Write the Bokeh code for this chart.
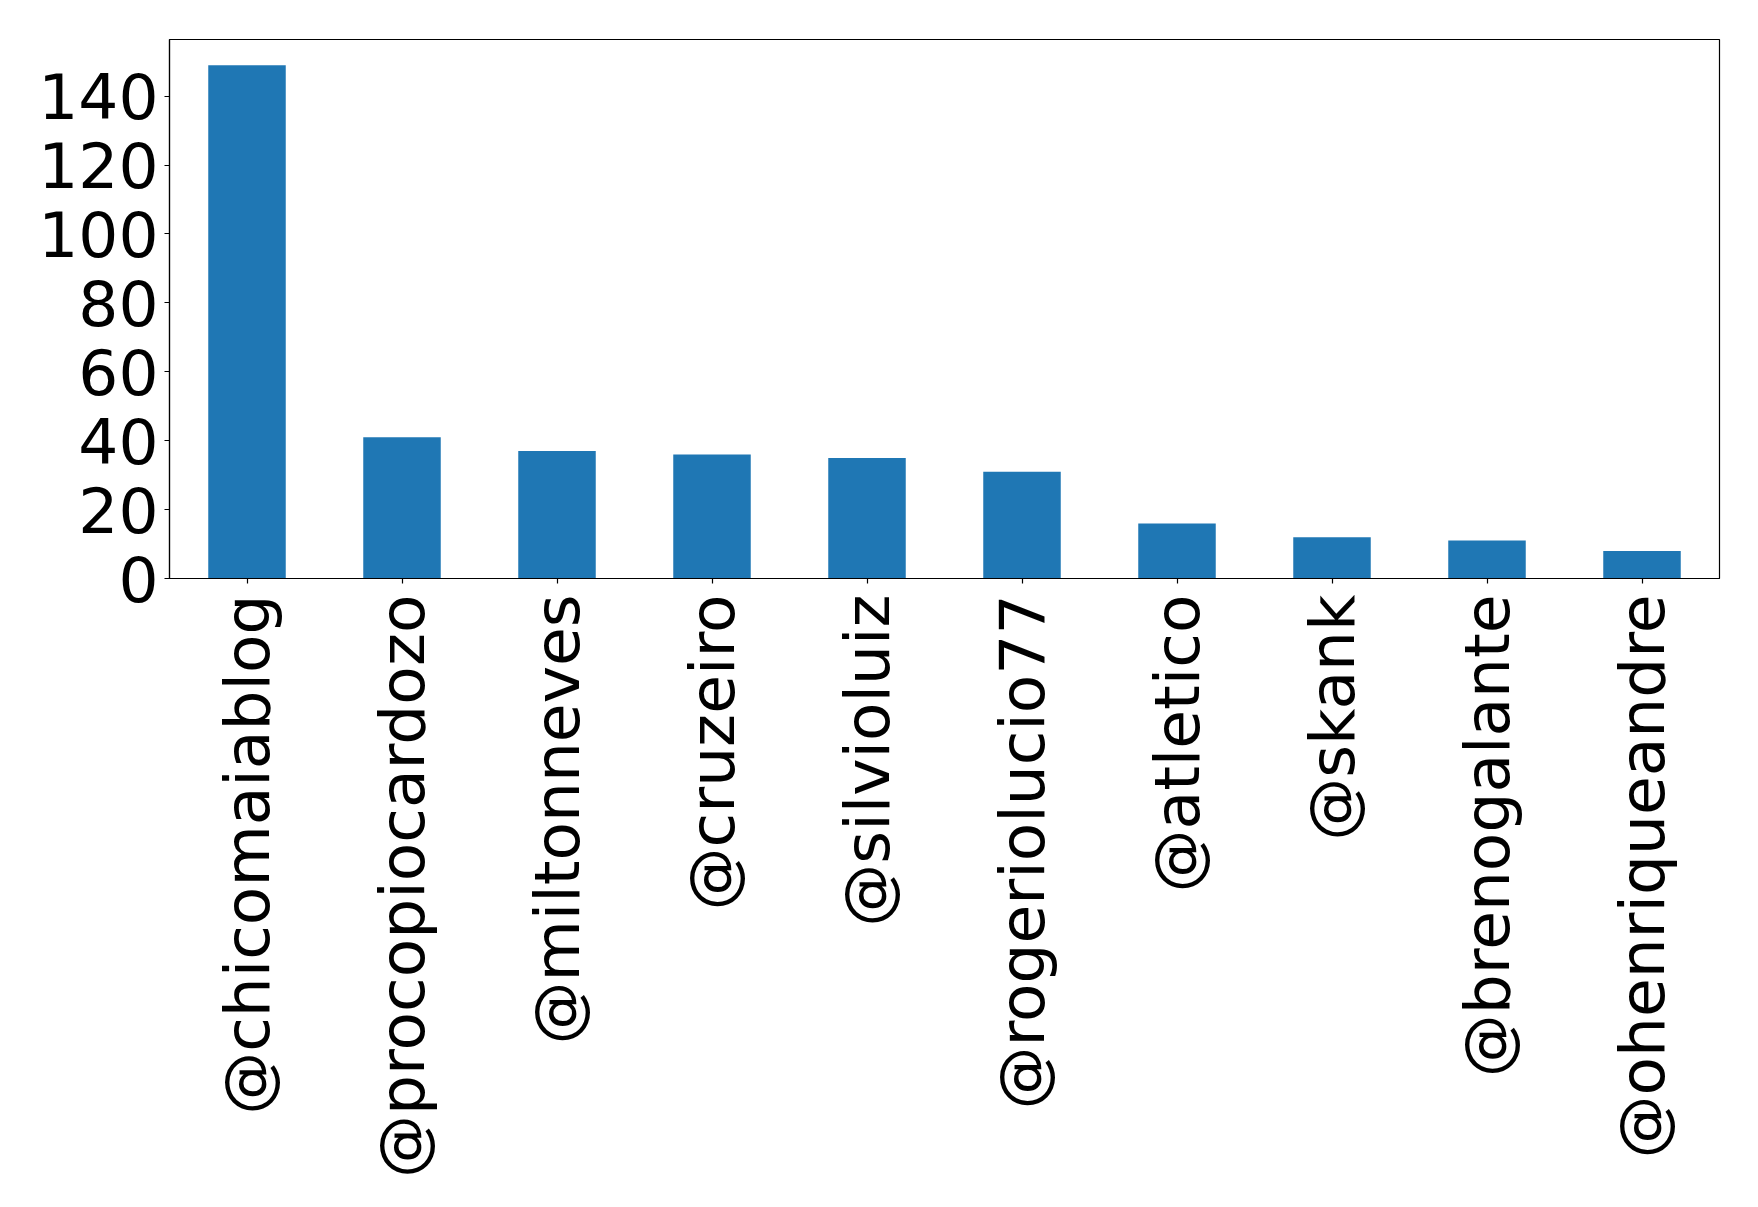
import math
from bokeh.plotting import figure
from bokeh.models import Range1d, FactorRange, FixedTicker
from bokeh.embed import file_html
from bokeh.resources import INLINE

users = ["@chicomaiablog", "@procopiocardozo", "@miltonneves", "@cruzeiro",
         "@silvioluiz", "@rogeriolucio77", "@atletico", "@skank",
         "@brenogalante", "@ohenriqueandre"]
counts = [149, 41, 37, 36, 35, 31, 16, 12, 11, 8]
y_ticks = [0, 20, 40, 60, 80, 100, 120, 140]

p = figure(width=1742, height=1191, output_backend="svg", toolbar_location=None,
           x_range=FactorRange(factors=users, range_padding=0),
           y_range=Range1d(0, max(counts) * 1.05),
           min_border_left=169, min_border_right=23, min_border_top=39,
           min_border_bottom=613)
p.vbar(x=users, top=counts, width=0.5, color="#1f77b4", line_color=None)

p.xgrid.visible = False
p.ygrid.visible = False
p.outline_line_color = "black"
p.outline_line_width = 1.2
p.outline_line_alpha = 1

for ax in (p.xaxis[0], p.yaxis[0]):
    ax.major_label_text_font = "DejaVu Sans"
    ax.major_label_text_font_size = "63px"
    ax.major_label_text_color = "black"
    ax.axis_line_color = "black"
    ax.axis_line_width = 1.2
    ax.major_tick_line_color = "black"
    ax.major_tick_line_width = 1.2
    ax.major_tick_out = 5
    ax.major_tick_in = 0
    ax.minor_tick_line_color = None

p.yaxis.ticker = FixedTicker(ticks=y_ticks)
p.yaxis.major_label_standoff = 6
p.xaxis.major_label_orientation = math.pi / 2
p.xaxis.major_label_standoff = 11

open("out.html", "w").write(file_html(p, INLINE))
